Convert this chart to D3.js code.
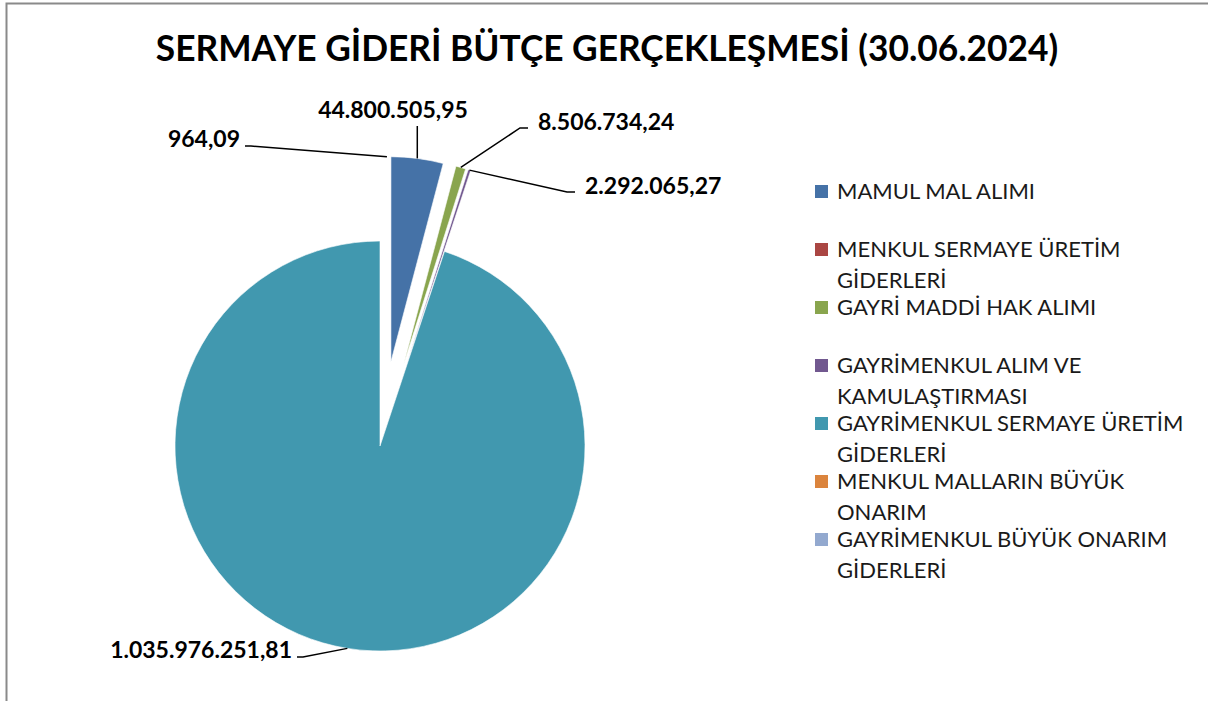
<!DOCTYPE html>
<html lang="tr">
<head>
<meta charset="UTF-8">
<title>Sermaye Gideri Bütçe Gerçekleşmesi</title>
<style>
	body { margin: 0; background: #fff; }
	svg { display: block; }
	.title { font-family: Lato, sans-serif; font-weight: bold; font-size: 35.3px; fill: #000; }
	.lbl { font-family: Lato, sans-serif; font-weight: bold; font-size: 23px; fill: #000; }
	.leg { font-family: Lato, sans-serif; font-size: 22px; fill: #1a1a1a; }
</style>
</head>
<body>
<svg></svg>
<script src="https://cdnjs.cloudflare.com/ajax/libs/d3/7.8.5/d3.min.js"></script>
<script>
	const width = 1208,
		height = 701;

	// chart data
	const categories = [
		['MAMUL MAL ALIMI'],
		['MENKUL SERMAYE ÜRETİM', 'GİDERLERİ'],
		['GAYRİ MADDİ HAK ALIMI'],
		['GAYRİMENKUL ALIM VE', 'KAMULAŞTIRMASI'],
		['GAYRİMENKUL SERMAYE ÜRETİM', 'GİDERLERİ'],
		['MENKUL MALLARIN BÜYÜK', 'ONARIM'],
		['GAYRİMENKUL BÜYÜK ONARIM', 'GİDERLERİ']
	];
	const values = [44800505.95, 964.09, 8506734.24, 2292065.27, 1035976251.81, 0, 0];
	const valueLabels = ['44.800.505,95', '964,09', '8.506.734,24', '2.292.065,27', '1.035.976.251,81', '', ''];
	const exploded = [true, true, true, true, false, false, false];
	const colors = ['#4572A7', '#AA4643', '#89A54E', '#71588F', '#4198AF', '#DB843D', '#93A9CF'];

	// where each value label sits (text anchor point) and how its leader bends
	const labelLayout = [
		{ x: 393, y: 118, anchor: 'middle', path: 'vertical' },
		{ x: 240, y: 147, anchor: 'end', path: 'elbowLeft', pointAtStartOf: 0 },
		{ x: 538, y: 130, anchor: 'start', path: 'elbowRight' },
		{ x: 585, y: 194, anchor: 'start', path: 'elbowRight' },
		{ x: 292, y: 658, anchor: 'end', path: 'elbowLeft' }
	];

	const cx = 380, cy = 446, radius = 205, explodeBy = 85;

	const svg = d3.select('svg')
		.attr('width', width)
		.attr('height', height);

	// frame
	svg.append('path')
		.attr('d', `M6.5,${height} V3.5 H${width}`)
		.attr('fill', 'none')
		.attr('stroke', '#8a8a8a')
		.attr('stroke-width', 2);

	svg.append('text')
		.attr('class', 'title')
		.attr('x', 607)
		.attr('y', 61)
		.attr('text-anchor', 'middle')
		.text('SERMAYE GİDERİ BÜTÇE GERÇEKLEŞMESİ (30.06.2024)');

	const pie = d3.pie().sort(null).value(d => d);
	const arcs = pie(values);
	const arc = d3.arc().innerRadius(0).outerRadius(radius);

	function offset(a, i) {
		if (!exploded[i]) return [0, 0];
		const m = (a.startAngle + a.endAngle) / 2;
		return [Math.sin(m) * explodeBy, -Math.cos(m) * explodeBy];
	}

	const g = svg.append('g').attr('transform', `translate(${cx},${cy})`);

	g.selectAll('path.slice')
		.data(arcs.filter(a => a.value > 0))
		.join('path')
		.attr('class', 'slice')
		.attr('transform', a => {
			const o = offset(a, a.index);
			return `translate(${o[0]},${o[1]})`;
		})
		.attr('d', arc)
		.attr('fill', a => colors[a.index])
		.attr('stroke', '#fff')
		.attr('stroke-width', 0.6);

	// value labels with leader lines
	labelLayout.forEach((L, i) => {
		const a = arcs[i];
		const ang = L.pointAtStartOf !== undefined ? arcs[L.pointAtStartOf].startAngle : (a.startAngle + a.endAngle) / 2;
		const o = L.pointAtStartOf !== undefined ? offset(arcs[L.pointAtStartOf], L.pointAtStartOf) : offset(a, i);
		const px = cx + o[0] + Math.sin(ang) * radius - (L.pointAtStartOf !== undefined ? 4 : 0);
		const py = cy + o[1] - Math.cos(ang) * radius;
		let pts;
		if (L.path === 'vertical') {
			pts = [[px, py], [px, L.y + 8]];
		} else if (L.path === 'elbowLeft') {
			pts = [[px, py], [L.x + 11, L.y - 1], [L.x + 5, L.y - 1]];
		} else {
			pts = [[px, py], [L.x - 18, L.y - 2], [L.x - 10, L.y - 2]];
		}
		svg.append('path')
			.attr('d', d3.line()(pts))
			.attr('fill', 'none')
			.attr('stroke', '#000')
			.attr('stroke-width', 1.5);
		svg.append('text')
			.attr('class', 'lbl')
			.attr('x', L.x)
			.attr('y', L.y)
			.attr('text-anchor', L.anchor)
			.text(valueLabels[i]);
	});

	// legend
	const legend = svg.append('g').attr('transform', 'translate(815,199)');
	const item = legend.selectAll('g')
		.data(categories)
		.join('g')
		.attr('transform', (d, i) => `translate(0,${i * 58})`);
	item.append('rect')
		.attr('x', 0)
		.attr('y', -14)
		.attr('width', 13)
		.attr('height', 13)
		.attr('fill', (d, i) => colors[i]);
	item.append('text')
		.attr('class', 'leg')
		.selectAll('tspan')
		.data(d => d)
		.join('tspan')
		.attr('x', 22)
		.attr('y', (d, j) => j * 30.5)
		.text(d => d);
</script>
</body>
</html>
